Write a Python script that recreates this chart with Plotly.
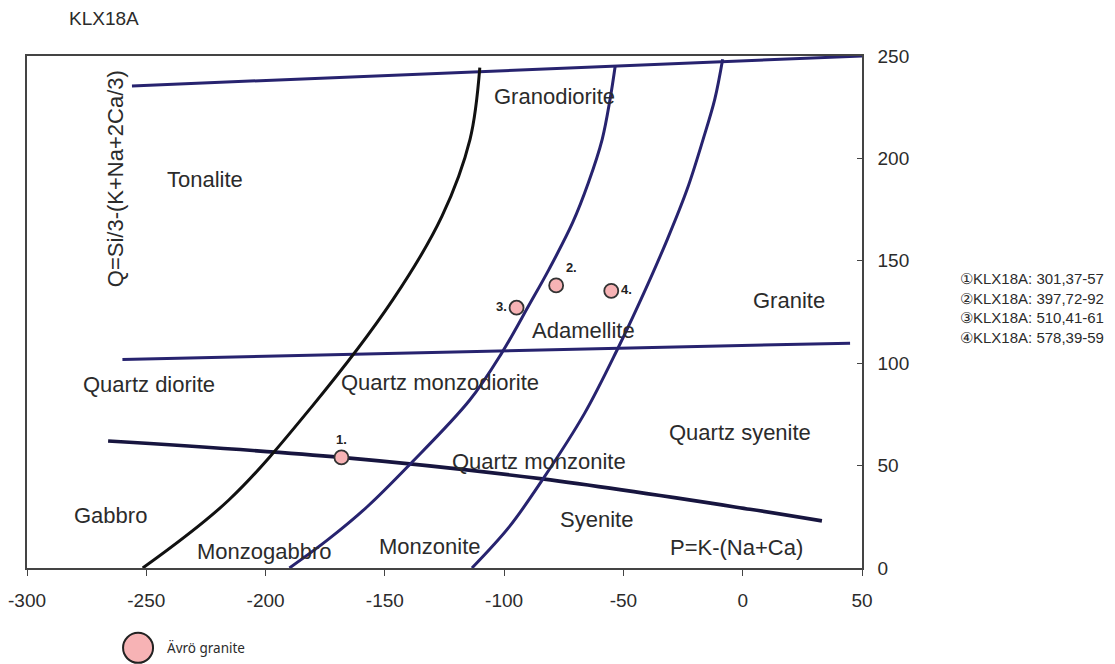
import plotly.graph_objects as go

# Sample points (P, Q)
sample_ids = ["1.", "2.", "3.", "4."]
sample_p = [-168.2, -78.2, -94.8, -55.1]
sample_q = [54.0, 138.0, 127.1, 135.3]
sample_names = ["①KLX18A: 301,37-57", "②KLX18A: 397,72-92",
                "③KLX18A: 510,41-61", "④KLX18A: 578,39-59"]

# Field boundaries of the P-Q diagram
upper_p = [-256.0, 50.0]
upper_q = [235.4, 250.0]

middle_p = [-260.0, 45.0]
middle_q = [101.8, 109.8]

lower_p = [-266.0, -168.2, -84.0, 3.0, 33.2]
lower_q = [62.0, 54.0, 43.5, 28.7, 23.0]

black_p = [-251.5, -215.4, -180.6, -146.7, -126.0, -114.3, -110.2]
black_q = [0.0, 33.2, 78.8, 130.9, 171.9, 209.3, 244.3]

blue1_p = [-190.0, -174.0, -157.4, -140.0, -114.4, -101.1, -89.5, -81.2,
           -71.3, -64.7, -58.9, -55.6, -53.4]
blue1_q = [0.0, 13.7, 29.9, 50.0, 82.0, 104.8, 128.5, 145.8,
           168.6, 188.1, 209.3, 228.9, 245.5]

blue2_p = [-113.5, -97.8, -83.7, -66.3, -52.3, -42.7, -31.6, -23.3,
           -16.6, -11.7, -8.4]
blue2_q = [0.0, 20.2, 43.5, 75.5, 107.3, 131.0, 160.5, 184.9,
           209.3, 228.9, 248.4]

# Rock-field names
field_names = ["Granodiorite", "Tonalite", "Granite", "Adamellite",
               "Quartz diorite", "Quartz monzodiorite", "Quartz syenite",
               "Quartz monzonite", "Gabbro", "Syenite", "Monzogabbro",
               "Monzonite", "P=K-(Na+Ca)"]
field_p = [-78.7, -225.4, 19.4, -66.6, -248.9, -126.9, -1.2,
           -85.4, -264.8, -61.1, -200.3, -131.1, -2.4]
field_q = [230.0, 189.5, 130.4, 116.2, 89.4, 90.8, 66.4,
           51.8, 25.4, 23.9, 8.3, 10.3, 9.8]

x_ticks = [-300, -250, -200, -150, -100, -50, 0, 50]
x_tick_text = ["-300", "-250", "-200", "-150", "-100", "-50", "0", "50"]
y_ticks = [0, 50, 100, 150, 200, 250]

NAVY = "#27236f"
DARK_NAVY = "#17153f"
FONT = "Liberation Sans, Arial, sans-serif"

fig = go.Figure()


def boundary(px, py, color, width):
    fig.add_trace(go.Scatter(
        x=px, y=py, mode="lines",
        line=dict(color=color, width=width, shape="spline", smoothing=1.0),
        hoverinfo="skip", showlegend=False))


boundary(upper_p, upper_q, NAVY, 3.0)
boundary(middle_p, middle_q, NAVY, 3.0)
boundary(lower_p, lower_q, DARK_NAVY, 3.6)
boundary(black_p, black_q, "#111111", 3.0)
boundary(blue1_p, blue1_q, NAVY, 3.0)
boundary(blue2_p, blue2_q, NAVY, 3.0)

fig.add_trace(go.Scatter(
    x=sample_p, y=sample_q, mode="markers+text",
    text=sample_ids,
    textposition=["top center", "top right", "middle left", "middle right"],
    textfont=dict(family=FONT, size=13, color="#222222", weight="bold"),
    marker=dict(size=14, color="#f7b3b5", line=dict(color="#333333", width=1.8)),
    name="Ävrö granite", showlegend=False))

annotations = []
for name, p, q in zip(field_names, field_p, field_q):
    annotations.append(dict(
        x=p, y=q, xref="x", yref="y", text=name, showarrow=False,
        xanchor="center", yanchor="middle",
        font=dict(family=FONT, size=22, color="#2b2b2b")))

# Q-axis title drawn inside the frame
annotations.append(dict(
    x=0.107, y=0.76, xref="paper", yref="paper",
    xanchor="center", yanchor="middle",
    text="Q=Si/3-(K+Na+2Ca/3)", textangle=-90, showarrow=False,
    font=dict(family=FONT, size=22, color="#2b2b2b")))

# Borehole title
annotations.append(dict(
    x=0.048, y=1.074, xref="paper", yref="paper", xanchor="left",
    yanchor="middle", text="KLX18A", showarrow=False,
    font=dict(family=FONT, size=19, color="#2b2b2b")))

# Sample key on the right
annotations.append(dict(
    x=1.115, y=0.508, xref="paper", yref="paper", xanchor="left",
    yanchor="middle", align="left",
    text="<br>".join(sample_names), showarrow=False,
    font=dict(family=FONT, size=15, color="#2b2b2b")))

# Symbol key below the axis
annotations.append(dict(
    x=0.165, y=-0.156, xref="paper", yref="paper", xanchor="left",
    yanchor="middle", text="Ävrö granite", showarrow=False,
    font=dict(family="Noto Sans, sans-serif", size=13.5, color="#2b2b2b")))

shapes = [dict(
    type="circle", xref="paper", yref="paper",
    xsizemode="pixel", ysizemode="pixel",
    xanchor=0.133, yanchor=-0.156,
    x0=-15, x1=15, y0=-15, y1=15,
    fillcolor="#f7b3b5", line=dict(color="#222222", width=2))]

fig.update_layout(
    width=1115, height=664,
    margin=dict(l=27, r=253, t=56, b=96, autoexpand=False),
    paper_bgcolor="white", plot_bgcolor="white",
    showlegend=False,
    annotations=annotations,
    shapes=shapes,
    xaxis=dict(
        range=[-300, 50], tickvals=x_ticks, ticktext=x_tick_text,
        showgrid=False, zeroline=False, automargin=False,
        showline=True, mirror=True, linecolor="#444444", linewidth=1.5,
        ticks="outside", ticklen=6, tickcolor="#444444",
        ticklabelstandoff=8,
        tickfont=dict(family=FONT, size=19, color="#2b2b2b")),
    yaxis=dict(
        range=[0, 250], tickvals=y_ticks, side="right", showgrid=False,
        zeroline=False, showline=True, mirror=True, linecolor="#444444",
        linewidth=1.5, ticks="inside", ticklen=5, tickcolor="#444444",
        ticklabelstandoff=10, automargin=False,
        tickfont=dict(family=FONT, size=19, color="#2b2b2b")),
)

fig.write_html("out.html")
